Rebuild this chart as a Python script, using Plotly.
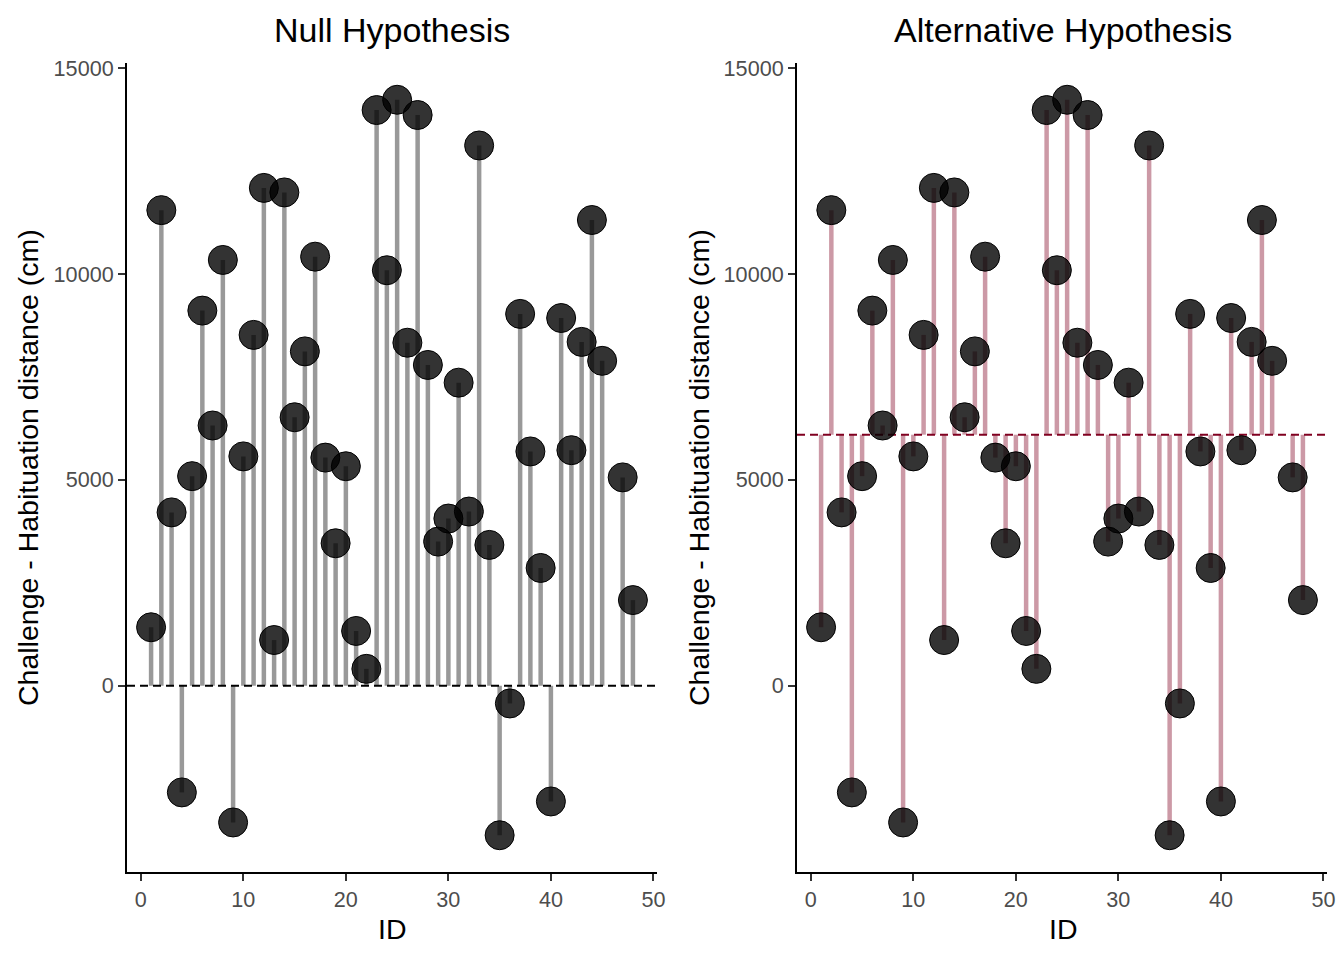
import numpy as np
import plotly.graph_objects as go
from plotly.subplots import make_subplots

# Challenge - Habituation je Tier, ID 46 fehlt
ids = [1, 2, 3, 4, 5, 6, 7, 8, 9, 10,
       11, 12, 13, 14, 15, 16, 17, 18, 19, 20,
       21, 22, 23, 24, 25, 26, 27, 28, 29, 30,
       31, 32, 33, 34, 35, 36, 37, 38, 39, 40,
       41, 42, 43, 44, 45, 47, 48]
distance = [1420, 11550, 4210, -2590, 5090, 9110, 6320, 10340, -3320, 5570,
            8520, 12090, 1110, 11980, 6520, 8120, 10420, 5540, 3460, 5330,
            1330, 410, 13980, 10090, 14230, 8330, 13860, 7790, 3500, 4060,
            7360, 4230, 13120, 3420, -3630, -430, 9030, 5690, 2860, -2810,
            8930, 5720, 8350, 11310, 7890, 5060, 2080]

panel_titles = ['Null Hypothesis', 'Alternative Hypothesis']
x_ticks = [0, 10, 20, 30, 40, 50]
y_ticks = [0, 5000, 10000, 15000]
x_title = 'ID'
y_title = 'Challenge - Habituation distance (cm)'

null_value = 0
mean_value = float(np.mean(distance))

schrift = 'Liberation Sans, Arial, sans-serif'

# Seite hat 8px body-margin -> Figur kleiner, Positionen in Fensterpixeln
rand = 8
breite = 1344 - rand
hoehe = 960 - 2 * rand - 6


def px_x(p):
    return (p - rand) / breite


def px_y(p):
    return 1 - (p - rand) / hoehe


def stems(x, y, base):
    xs, ys = [], []
    for xi, yi in zip(x, y):
        xs += [xi, xi, None]
        ys += [base, yi, None]
    return xs, ys


def expand(werte, f=0.05):
    lo, hi = min(werte), max(werte)
    d = (hi - lo) * f
    return [lo - d, hi + d]


x_range = expand(ids)
y_range = expand(distance)

fig = make_subplots(rows=1, cols=2)

panels = [
    (null_value, 'rgba(0,0,0,0.4)', 'black'),
    (mean_value, 'rgba(128,0,32,0.4)', '#800020'),
]

for i, (base, stem_col, line_col) in enumerate(panels):
    col = i + 1
    sx, sy = stems(ids, distance, base)
    fig.add_trace(go.Scatter(x=sx, y=sy, mode='lines',
                             line=dict(color=stem_col, width=4.5),
                             hoverinfo='skip', showlegend=False), row=1, col=col)
    fig.add_trace(go.Scatter(x=x_range, y=[base, base], mode='lines',
                             line=dict(color=line_col, width=2, dash='8px,5px'),
                             hoverinfo='skip', showlegend=False), row=1, col=col)
    fig.add_trace(go.Scatter(x=ids, y=distance, mode='markers',
                             marker=dict(size=29, color='rgba(0,0,0,0.8)',
                                         line=dict(color='black', width=1)),
                             showlegend=False), row=1, col=col)

achse = dict(showline=True, linecolor='black', linewidth=2, mirror=False,
             showgrid=False, zeroline=False, ticks='outside', ticklen=7,
             tickwidth=2, tickcolor='#333333', automargin=False,
             ticklabeloverflow='allow',
             tickfont=dict(family=schrift, size=21.6, color='#4d4d4d'))

# rechtes Panel 2px nach links, damit die "50" nicht abgeschnitten wird
x_domains = [[px_x(127), px_x(657)], [px_x(797), px_x(1327)]]
y_domain = [px_y(872), px_y(63)]

for i in range(2):
    fig.update_xaxes(achse, range=x_range, tickvals=x_ticks, domain=x_domains[i],
                     row=1, col=i + 1)
    fig.update_yaxes(achse, range=y_range, tickvals=y_ticks,
                     ticktext=[str(t) for t in y_ticks], domain=y_domain,
                     row=1, col=i + 1)

annotations = []
for i, mitte_px in enumerate([392, 1063]):
    annotations.append(dict(text=panel_titles[i], x=px_x(mitte_px), y=px_y(30),
                            xref='paper', yref='paper', showarrow=False,
                            xanchor='center', yanchor='middle',
                            font=dict(family=schrift, size=34, color='black')))
    annotations.append(dict(text=x_title, x=px_x(mitte_px), y=px_y(929),
                            xref='paper', yref='paper', showarrow=False,
                            xanchor='center', yanchor='middle',
                            font=dict(family=schrift, size=28.5, color='black')))
    annotations.append(dict(text=y_title, x=px_x(mitte_px - 364),
                            y=px_y(468),
                            xref='paper', yref='paper', showarrow=False,
                            textangle=-90, xanchor='center', yanchor='middle',
                            font=dict(family=schrift, size=28.5, color='black')))

fig.update_layout(width=breite, height=hoehe, margin=dict(l=0, r=0, t=0, b=0),
                  paper_bgcolor='white', plot_bgcolor='white',
                  annotations=annotations, font=dict(family=schrift))

fig.write_html('out.html')
